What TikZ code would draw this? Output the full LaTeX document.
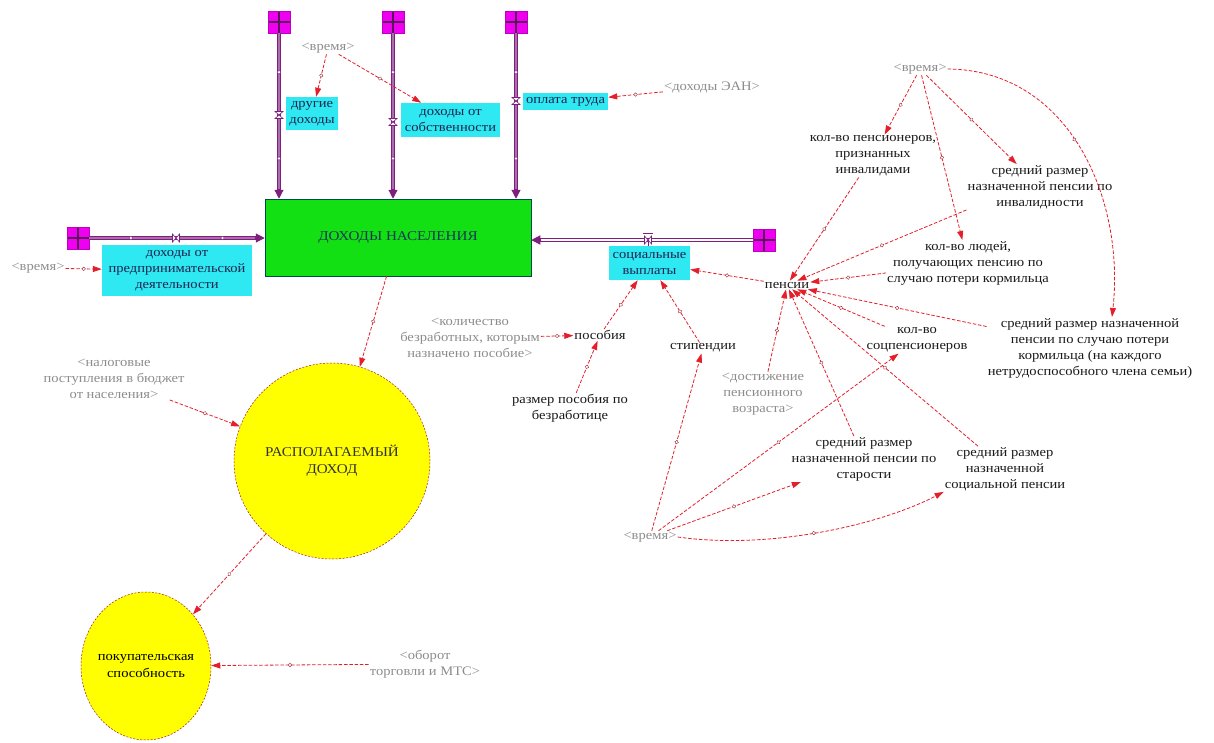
\documentclass[tikz,border=0pt]{standalone}
\usepackage{fontspec}
\setmainfont{Liberation Serif}[FakeStretch=1.12]
\usetikzlibrary{arrows.meta,shapes.geometric,decorations.markings,calc}
\definecolor{arrred}{HTML}{E41E2B}
\definecolor{hdred}{HTML}{A02030}
\definecolor{grtxt}{HTML}{8C8C8C}
\definecolor{pipecol}{HTML}{7E1F7E}
\definecolor{cloudcol}{HTML}{F000F0}
\definecolor{cyanbox}{HTML}{2EE8F2}
\definecolor{greenbox}{HTML}{12E012}
\definecolor{navytxt}{HTML}{1C2550}
\definecolor{yel}{HTML}{FFFF00}
\begin{document}
\begin{tikzpicture}[x=1pt,y=-1pt,
  lbl/.style={align=center, inner sep=1pt, font=\fontsize{13}{16}\selectfont, text=black!90},
  shd/.style={lbl, text=grtxt},
  cbox/.style={fill=cyanbox, align=center, inner sep=0pt, font=\fontsize{13}{16}\selectfont, text=navytxt},
  srcbox/.style={fill=cloudcol, draw=cloudcol!80!black, line width=0.3pt, minimum size=22pt, inner sep=0pt,
     path picture={\draw[pipecol!70!black, line width=1.8pt]
       (path picture bounding box.north) -- (path picture bounding box.south)
       (path picture bounding box.west) -- (path picture bounding box.east);}},
  hd/.style={postaction={decorate, decoration={markings,
     mark=at position #1 with {\draw[hdred, fill=white, line width=0.4pt, solid] (0,0) circle (1.8pt);}}}},
  hd/.default=0.5,
  hdtwo/.style={postaction={decorate, decoration={markings,
     mark=at position 0.25 with {\draw[pipecol, fill=white, line width=0.4pt, solid] (0,0) circle (1.9pt);},
     mark=at position 0.8 with {\draw[pipecol, fill=white, line width=0.4pt, solid] (0,0) circle (1.9pt);}}}},
  infl/.style={draw=arrred, dash pattern=on 3.5pt off 1.8pt, line width=0.8pt, -{Triangle[length=9pt,width=6pt]}},
  pipe/.style={draw=pipecol, line width=0.9pt, double=pipecol!65, double distance=1.4pt},
  pipew/.style={draw=pipecol, line width=0.8pt, double=white, double distance=2.8pt},
  pipetip/.style={draw=pipecol, fill=pipecol, line width=1.2pt, -{Triangle[length=9pt,width=9pt]}},
  vlv/.style={draw=pipecol, fill=white, line width=0.6pt},
  level/.style={fill=yel, draw=hdred, dash pattern=on 2pt off 1.5pt, line width=0.5pt}
]
\useasboundingbox (0,0) rectangle (1214,742);

% ---- sources (clouds)
\node[srcbox] (cl1) at (279,22) {};
\node[srcbox] (cl2) at (393,22) {};
\node[srcbox] (cl3) at (516,22) {};
\node[srcbox] (cl4) at (78,238) {};
\node[srcbox] (cl5) at (764,240) {};

% ---- stock
\node[fill=greenbox, draw=teal!60!black, line width=0.5pt, minimum width=266, minimum height=77,
      inner sep=0pt, font=\fontsize{13.5}{16}\selectfont, text=navytxt!80!teal] (dn) at (398,237.5) {ДОХОДЫ НАСЕЛЕНИЯ};

% ---- flow boxes
\node[cbox, minimum width=52, minimum height=33] (dr) at (312,113.5) {другие\\доходы};
\node[cbox, minimum width=99, minimum height=34] (ds) at (450.5,120) {доходы от\\собственности};
\node[cbox, minimum width=85, minimum height=17] (ot) at (565.5,101.5) {оплата труда};
\node[cbox, minimum width=150, minimum height=51] (dp) at (177,270.5) {доходы от\\предпринимательской\\деятельности};
\node[cbox, minimum width=81, minimum height=34] (sv) at (649.5,263) {социальные\\выплаты};

% ---- pipes
\coordinate (e1) at (cl1 |- dn.north);
\coordinate (e2) at (cl2 |- dn.north);
\coordinate (e3) at (cl3 |- dn.north);
\coordinate (e4) at (cl4 -| dn.west);
\coordinate (e5) at (cl5 -| dn.east);
\draw[pipe, hdtwo] (cl1.south) -- ([yshift=9pt]e1);
\draw[pipe, hdtwo] (cl2.south) -- ([yshift=9pt]e2);
\draw[pipe, hdtwo] (cl3.south) -- ([yshift=9pt]e3);
\draw[pipe, hdtwo] (cl4.east) -- ([xshift=-9pt]e4);
\draw[pipew] (cl5.west) -- ([xshift=9pt]e5);
\draw[pipetip] ([yshift=10pt]e1) -- (e1);
\draw[pipetip] ([yshift=10pt]e2) -- (e2);
\draw[pipetip] ([yshift=10pt]e3) -- (e3);
\draw[pipetip] ([xshift=-10pt]e4) -- (e4);
\draw[pipetip] ([xshift=10pt]e5) -- (e5);

% ---- valves
\coordinate (v1) at (279,115);
\coordinate (v2) at (393,122);
\coordinate (v3) at (516,101);
\coordinate (v4) at (176,238);
\coordinate (v5) at (648,240);
\foreach \v in {v1,v2,v3}{
  \draw[vlv] ([shift={(-4,-3.5)}]\v) -- ([shift={(4,-3.5)}]\v) -- ([shift={(-4,3.5)}]\v) -- ([shift={(4,3.5)}]\v) -- cycle;}
\draw[vlv] ([shift={(-3.5,-4)}]v4) -- ([shift={(-3.5,4)}]v4) -- ([shift={(3.5,-4)}]v4) -- ([shift={(3.5,4)}]v4) -- cycle;
\draw[vlv] ([shift={(-3.5,-4)}]v5) -- ([shift={(-3.5,4)}]v5) -- ([shift={(3.5,-4)}]v5) -- ([shift={(3.5,4)}]v5) -- cycle;
\draw[pipecol, line width=0.9pt] ([shift={(-5,-7)}]v5) -- ([shift={(5,-7)}]v5) (v5) -- (v5 |- sv.north);

% ---- auxiliary variables
\node[shd] (t1) at (328,48) {<время>};
\node[shd] (t2) at (38,268) {<время>};
\node[shd] (t3) at (920,69) {<время>};
\node[shd] (t4) at (650,537) {<время>};
\node[shd] (ean) at (712,87) {<доходы ЭАН>};
\node[lbl] (pi) at (873,156) {кол-во пенсионеров,\\признанных\\инвалидами};
\node[lbl] (sri) at (1040,187) {средний размер\\назначенной пенсии по\\инвалидности};
\node[lbl] (kl) at (968,263) {кол-во людей,\\получающих пенсию по\\случаю потери кормильца};
\node[lbl] (pens) at (787,285) {пенсии};
\node[lbl] (srk) at (1090,348) {средний размер назначенной\\пенсии по случаю потери\\кормильца (на каждого\\нетрудоспособного члена семьи)};
\node[lbl] (ksp) at (917,340) {кол-во\\соцпенсионеров};
\node[shd] (dpv) at (763,394) {<достижение\\пенсионного\\возраста>};
\node[lbl] (srs) at (864,459) {средний размер\\назначенной пенсии по\\старости};
\node[lbl] (srsoc) at (1005,469) {средний размер\\назначенной\\социальной пенсии};
\node[lbl] (stip) at (703,348) {стипендии};
\node[lbl] (pos) at (600,335) {пособия};
\node[shd] (kb) at (470,338) {<количество\\безработных, которым\\назначено пособие>};
\node[lbl] (rp) at (570,408) {размер пособия по\\безработице};
\node[shd] (nal) at (114,379) {<налоговые\\поступления в бюджет\\от населения>};
\node[shd] (ob) at (425,664) {<оборот\\торговли и МТС>};

% ---- yellow levels
\node[circle, level, minimum size=196, inner sep=0pt] (rd) at (332,461) {};
\node[align=center, font=\fontsize{13.5}{17}\selectfont, text=black!80] (rdt) at (rd) {РАСПОЛАГАЕМЫЙ\\ДОХОД};
\node[ellipse, level, minimum width=130, minimum height=148, inner sep=0pt] (pk) at (146,666) {};
\node[align=center, font=\fontsize{13}{17}\selectfont, text=black] (pkt) at (pk) {покупательская\\способность};

% ---- influence arrows
\draw[infl, hd] (t1) -- (dr);
\draw[infl, hd] (t1) -- (ds);
\draw[infl, hd] (ean) -- (ot);
\draw[infl, hd] (t2) -- (dp);
\draw[infl, hd] (t3) -- (pi);
\draw[infl, hd] (t3) -- (sri);
\draw[infl, hd] (t3) -- (kl);
\draw[infl, hd=0.45] (t3.east) .. controls (1070,70) and (1125,200) .. ([xshift=22pt]srk.north);
\draw[infl, hd] (pi) -- (pens);
\draw[infl, hd] (sri.south west) -- (pens);
\draw[infl, hd] (kl) -- (pens);
\draw[infl, hd] (srk) -- (pens);
\draw[infl, hd] (ksp) -- (pens);
\draw[infl, hd] (dpv) -- (pens);
\draw[infl, hd] (srs) -- (pens);
\draw[infl, hd] (srsoc) -- (pens);
\draw[infl, hd] (pens) -- (sv);
\draw[infl, hd] (stip) -- (sv);
\draw[infl, hd] (pos) -- (sv);
\draw[infl, hd] (kb) -- (pos);
\draw[infl, hd] (rp) -- (pos);
\draw[infl, hd] (t4) -- (stip);
\draw[infl, hd] (t4) -- (ksp);
\draw[infl, hd] (t4) -- (srs);
\draw[infl, hd] (t4.east) .. controls (770,550) and (880,525) .. (srsoc.south west);
\draw[infl, hd] (dn) -- (rd);
\draw[infl, hd] (nal) -- (rd);
\draw[infl, hd] (rd) -- (pk);
\draw[infl, hd] (ob) -- (pk);
\end{tikzpicture}
\end{document}
